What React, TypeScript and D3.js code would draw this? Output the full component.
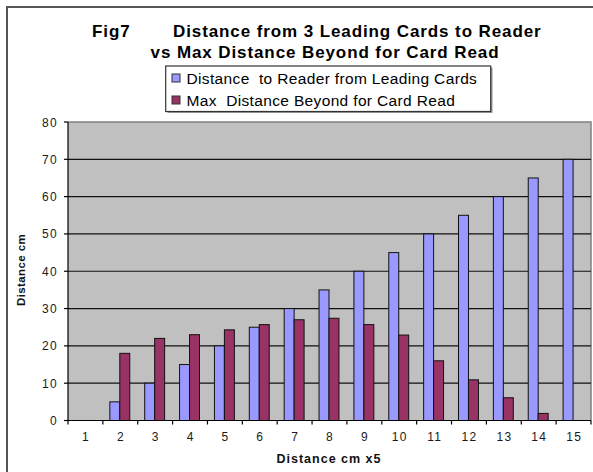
import React from "react";
import * as d3 from "d3";

const categories = ["1","2","3","4","5","6","7","8","9","10","11","12","13","14","15"];
const leadingDistance = [0,5,10,15,20,25,30,35,40,45,50,55,60,65,70];
const maxBeyond = [0,18,22,23,24.3,25.7,27,27.4,25.7,22.9,16,10.9,6.1,1.9,0];
const yTicks = [0,10,20,30,40,50,60,70,80];
const seriesNames = ["Distance  to Reader from Leading Cards", "Max  Distance Beyond for Card Read"];
const seriesColors = ["#9999FF", "#993366"];

const W = 593, H = 472;
const plot = { left: 68, right: 591, top: 122, bottom: 420.5 };

export default function App() {
  const x = d3.scaleBand<string>().domain(categories).range([plot.left, plot.right]).paddingInner(0).paddingOuter(0);
  const y = d3.scaleLinear().domain([0, 80]).range([plot.bottom, plot.top]);
  const bw = x.bandwidth() / 3.5;
  const font = "Liberation Sans, Arial, sans-serif";
  const series = [leadingDistance, maxBeyond];
  return (
    <svg width={W} height={H} style={{ position: "absolute", left: 0, top: 0, background: "#fff" }} fontFamily={font}>
      <rect x={0} y={0} width={W} height={H} fill="#fff" />
      {/* outer border */}
      <path d={`M7,${H} V7 H${W}`} fill="none" stroke="#555" strokeWidth={2} />
      {/* title */}
      <text y={37} fontSize={17} fontWeight="bold" fill="#000" letterSpacing={0.9}>
        <tspan x={92}>Fig7</tspan>
        <tspan x={173}>Distance from 3 Leading Cards to Reader</tspan>
      </text>
      <text x={325} y={58} fontSize={17} fontWeight="bold" textAnchor="middle" fill="#000" letterSpacing={0.9}>vs Max Distance Beyond for Card Read</text>
      {/* legend */}
      <rect x={167.5} y={67.5} width={325} height={45.5} fill="#999" />
      <rect x={165.7} y={66} width={325} height={45.5} fill="#fff" stroke="#333" strokeWidth={1.2} />
      {seriesNames.map((n, i) => (
        <g key={n}>
          <rect x={172} y={74 + i * 22} width={8} height={8} fill={seriesColors[i]} stroke="#333" strokeWidth={1} />
          <text x={186.5} y={83.5 + i * 22} fontSize={15.5} fill="#000" letterSpacing={0.35} style={{ whiteSpace: "pre" }}>{n}</text>
        </g>
      ))}
      {/* plot area */}
      <rect x={plot.left} y={plot.top} width={plot.right - plot.left} height={plot.bottom - plot.top} fill="#C0C0C0" />
      <path d={`M${plot.left},${plot.top} H${plot.right} V${plot.bottom}`} fill="none" stroke="#808080" strokeWidth={1.5} />
      {yTicks.filter(t => t > 0 && t < 80).map(t => (
        <line key={t} x1={plot.left} x2={plot.right} y1={y(t)} y2={y(t)} stroke="#111" strokeWidth={1.2} />
      ))}
      {/* bars */}
      {series.map((s, si) => s.map((v, i) => v > 0 ? (
        <rect key={`${si}-${i}`} x={(x(categories[i]) as number) + bw * 0.75 + si * bw - 0.5} y={y(v)} width={bw} height={y(0) - y(v)}
          fill={seriesColors[si]} stroke="#111" strokeWidth={1} />
      ) : null))}
      {/* axes */}
      <line x1={plot.left} x2={plot.left} y1={plot.top} y2={plot.bottom} stroke="#000" strokeWidth={1.2} />
      <line x1={plot.left} x2={plot.right} y1={plot.bottom} y2={plot.bottom} stroke="#000" strokeWidth={1.2} />
      {yTicks.map(t => (
        <g key={t}>
          <line x1={plot.left - 4} x2={plot.left} y1={y(t)} y2={y(t)} stroke="#000" strokeWidth={1.2} />
          <text x={58} y={y(t) + 4.5} fontSize={12} textAnchor="end" fill="#1a1a1a" letterSpacing={1.3}>{t}</text>
        </g>
      ))}
      {categories.map((c, i) => (
        <g key={c}>
          <line x1={(x(c) as number)} x2={(x(c) as number)} y1={plot.bottom} y2={plot.bottom + 4} stroke="#000" strokeWidth={1.2} />
          <text x={(x(c) as number) + x.bandwidth() / 2 + 0.6} y={441} fontSize={12} textAnchor="middle" fill="#1a1a1a" letterSpacing={1.3}>{c}</text>
        </g>
      ))}
      <line x1={plot.right} x2={plot.right} y1={plot.bottom} y2={plot.bottom + 4} stroke="#000" strokeWidth={1.2} />
      <text x={329} y={462.5} fontSize={12.5} fontWeight="bold" textAnchor="middle" fill="#111" letterSpacing={1}>Distance cm x5</text>
      <text transform="translate(25,270) rotate(-90)" fontSize={11.5} fontWeight="bold" textAnchor="middle" fill="#111" letterSpacing={0.4}>Distance cm</text>
    </svg>
  );
}
